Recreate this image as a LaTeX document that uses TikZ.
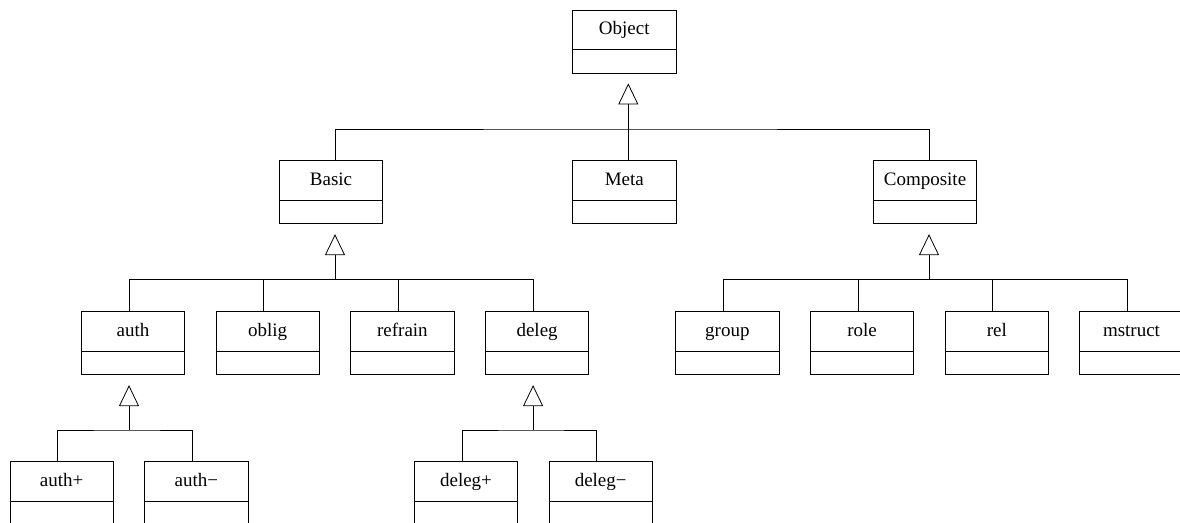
\documentclass[tikz,border=0pt]{standalone}
\usepackage{fontspec}
\setmainfont{Liberation Serif}
\usetikzlibrary{arrows.meta}
\begin{document}
\begin{tikzpicture}[x=1pt,y=-1pt,line width=0.8pt,
  cls/.style={draw, inner sep=0pt, minimum width=103.5pt,
    text height=24.5pt, text depth=38.5pt,
    font=\fontsize{19}{21}\selectfont,
    path picture={\draw ([yshift=-39.5pt]path picture bounding box.north west)
      -- ([yshift=-39.5pt]path picture bounding box.north east);}},
  gen/.style={-{Triangle[open,length=21pt,width=20pt]}, shorten >=10pt}]
\useasboundingbox (0,0) rectangle (1180,522);

% classes: top row
\node[cls] (Object) at (624.3,41.5) {Object};
% second row
\node[cls] (Basic) at (331,192.2) {Basic};
\node[cls] (Meta) at (624.3,192.2) {Meta};
\node[cls] (Composite) at (925,192.2) {Composite};
% third row
\node[cls] (auth) at (133,343.2) {auth};
\node[cls] (oblig) at (267.7,343.2) {oblig};
\node[cls] (refrain) at (402.4,343.2) {refrain};
\node[cls] (deleg) at (537.1,343.2) {deleg};
\node[cls] (group) at (727.4,343.2) {group};
\node[cls] (role) at (862.1,343.2) {role};
\node[cls] (rel) at (996.8,343.2) {rel};
\node[cls] (mstruct) at (1131.5,343.2) {mstruct};
% fourth row
\node[cls] (authp) at (61.7,493.2) {auth+};
\node[cls] (authm) at (196.3,493.2) {auth−};
\node[cls] (delegp) at (466,493.2) {deleg+};
\node[cls] (delegm) at (600.7,493.2) {deleg−};

% junctions of the generalisation trees
\coordinate (jObject) at (628.3,129);
\coordinate (jBasic) at (335,279.5);
\coordinate (jComposite) at (929,279.5);
\coordinate (jauth) at (129,430);
\coordinate (jdeleg) at (533.1,430);

% Object
\draw[gen] (jObject) -- ([xshift=4pt]Object.south);
\draw ([xshift=4pt]Basic.north) |- (jObject) -| ([xshift=4pt]Composite.north);
\draw ([xshift=4pt]Meta.north) -- (jObject);

% Basic
\draw[gen] (jBasic) -- ([xshift=4pt]Basic.south);
\draw ([xshift=-4pt]auth.north) |- (jBasic) -| ([xshift=-4pt]deleg.north);
\draw ([xshift=-4pt]oblig.north) -- ([xshift=-4pt]oblig.north |- jBasic);
\draw ([xshift=-4pt]refrain.north) -- ([xshift=-4pt]refrain.north |- jBasic);

% Composite
\draw[gen] (jComposite) -- ([xshift=4pt]Composite.south);
\draw ([xshift=-4pt]group.north) |- (jComposite) -| ([xshift=-4pt]mstruct.north);
\draw ([xshift=-4pt]role.north) -- ([xshift=-4pt]role.north |- jComposite);
\draw ([xshift=-4pt]rel.north) -- ([xshift=-4pt]rel.north |- jComposite);

% auth
\draw[gen] (jauth) -- ([xshift=-4pt]auth.south);
\draw ([xshift=-4pt]authp.north) |- (jauth) -| ([xshift=-4pt]authm.north);

% deleg
\draw[gen] (jdeleg) -- ([xshift=-4pt]deleg.south);
\draw ([xshift=-4pt]delegp.north) |- (jdeleg) -| ([xshift=-4pt]delegm.north);
\end{tikzpicture}
\end{document}
